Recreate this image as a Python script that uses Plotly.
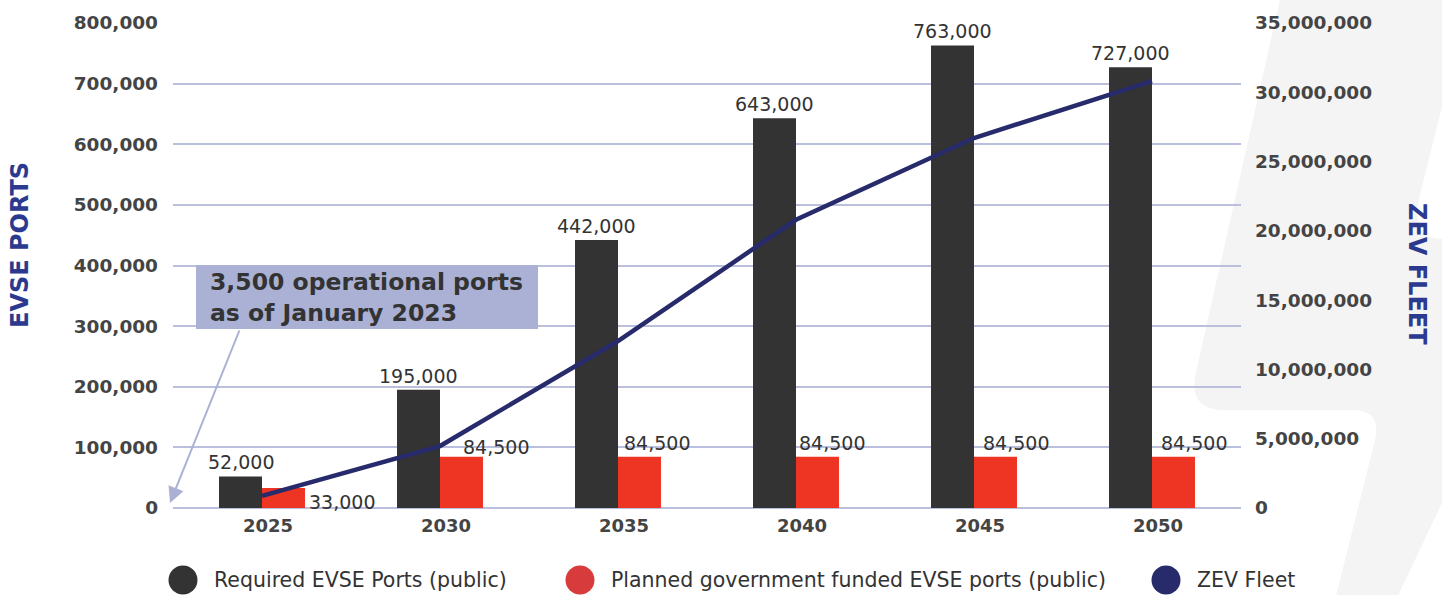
import plotly.graph_objects as go

# ---------------- data ----------------
years = ["2025", "2030", "2035", "2040", "2045", "2050"]
required_ports = [52000, 195000, 442000, 643000, 763000, 727000]
planned_ports = [33000, 84500, 84500, 84500, 84500, 84500]
zev_fleet = [870000, 4470000, 12050000, 20800000, 26700000, 30800000]

left_ticks = [0, 100000, 200000, 300000, 400000, 500000, 600000, 700000, 800000]
right_ticks = [0, 5000000, 10000000, 15000000, 20000000, 25000000, 30000000, 35000000]

legend_names = ["Required EVSE Ports (public)",
                "Planned government funded EVSE ports (public)",
                "ZEV Fleet"]

# ---------------- styles ----------------
BLACK = "#333333"
RED = "#ee3524"
RED_LEG = "#d83b3b"
NAVY = "#272b6b"
TITLE_NAVY = "#2b3a8f"
GRID = "#b9bfdd"
GRAY_BG = "#f4f4f4"
BOX = "#aab1d4"
TXT = "#333333"
TICK = "#444444"
FONT = "DejaVu Sans"

W, H = 1442, 595
ML, MR, MT, MB = 173, 201, 23, 87
PW, PH = W - ML - MR, H - MT - MB


def px(x):
    return (x - ML) / PW


def py(y):
    return (H - MB - y) / PH


fig = go.Figure()

fig.add_trace(go.Bar(
    x=years, y=required_ports, name=legend_names[0],
    marker=dict(color=BLACK, line=dict(width=0)), showlegend=False,
))
fig.add_trace(go.Bar(
    x=years, y=planned_ports, name=legend_names[1],
    marker=dict(color=RED, line=dict(width=0)), showlegend=False,
))
fig.add_trace(go.Scatter(
    x=years, y=zev_fleet, name=legend_names[2], yaxis="y2",
    mode="lines", line=dict(color=NAVY, width=4.5), showlegend=False,
))

annotations = []
# labels on required (black) bars  (x given as category index)
for i, v in enumerate(required_ports):
    annotations.append(dict(
        x=i, y=v, xref="x", yref="y", text=f"{v:,}", showarrow=False,
        xshift=-21.5, yanchor="bottom", yshift=1,
        font=dict(family=FONT, size=19, color=TXT),
    ))
# labels on planned (red) bars
red_xshift = [45, 21, 4, 1, 7, 7]
red_yshift = [-14, 10, 14, 14, 14, 14]
for i, (v, dx, dy) in enumerate(zip(planned_ports, red_xshift, red_yshift)):
    annotations.append(dict(
        x=i, y=v, xref="x", yref="y", text=f"{v:,}", showarrow=False,
        xanchor="left", xshift=dx, yanchor="middle", yshift=dy,
        font=dict(family=FONT, size=19, color=TXT),
    ))

# callout text and arrow
annotations.append(dict(
    x=px(208), y=py(297), xref="paper", yref="paper",
    text="3,500 operational ports<br>as of January 2023",
    showarrow=False, xanchor="left", yanchor="middle", align="left",
    font=dict(family=FONT, size=23.5, color=TXT, weight="bold"),
))
annotations.append(dict(
    x=px(170), y=py(503), xref="paper", yref="paper", text="",
    showarrow=True, ax=70, ay=-174, axref="pixel", ayref="pixel",
    arrowhead=2, arrowsize=1.6, arrowwidth=2, arrowcolor=BOX,
))

# axis titles
annotations.append(dict(
    x=px(20), y=py(245), xref="paper", yref="paper", text="<b>EVSE PORTS</b>",
    showarrow=False, textangle=-90, xanchor="center", yanchor="middle",
    font=dict(family=FONT, size=24, color=TITLE_NAVY),
))
annotations.append(dict(
    x=px(1417), y=py(274), xref="paper", yref="paper", text="<b>ZEV FLEET</b>",
    showarrow=False, textangle=90, xanchor="center", yanchor="middle",
    font=dict(family=FONT, size=24, color=TITLE_NAVY),
))

# legend (circle markers + text)
leg_cx = [183, 580, 1166]
leg_colors = [BLACK, RED_LEG, NAVY]
shapes = []
for cx, name, col in zip(leg_cx, legend_names, leg_colors):
    shapes.append(dict(
        type="circle", xref="paper", yref="paper",
        xsizemode="pixel", ysizemode="pixel",
        xanchor=px(cx), yanchor=py(580),
        x0=-14.5, x1=14.5, y0=-14.5, y1=14.5,
        fillcolor=col, line=dict(width=0),
    ))
    annotations.append(dict(
        x=px(cx + 29), y=py(580), xref="paper", yref="paper", text=name,
        showarrow=False, xanchor="left", yanchor="middle",
        font=dict(family=FONT, size=20.5, color=TXT),
    ))

# gray background swoosh
gray_path = (
    f"M {px(1281)},{py(-5)} L {px(1450)},{py(-5)} L {px(1450)},{py(486)} "
    f"L {px(1396)},{py(600)} L {px(1335)},{py(600)} L {px(1375)},{py(440)} "
    f"Q {px(1382)},{py(410)} {px(1352)},{py(410)} L {px(1225)},{py(410)} "
    f"Q {px(1187)},{py(410)} {px(1196)},{py(372)} Z"
)
white_notch = (
    f"M {px(1450)},{py(100)} L {px(1443)},{py(103)} L {px(1419)},{py(198)} "
    f"Q {px(1411)},{py(239)} {px(1442)},{py(239)} L {px(1450)},{py(239)} Z"
)
shapes.insert(0, dict(type="path", path=gray_path, xref="paper", yref="paper",
                      fillcolor=GRAY_BG, line=dict(width=0), layer="below"))
shapes.insert(1, dict(type="path", path=white_notch, xref="paper", yref="paper",
                      fillcolor="white", line=dict(width=0), layer="below"))
# callout box
shapes.append(dict(type="rect", xref="paper", yref="paper",
                   x0=px(196), x1=px(538), y0=py(329), y1=py(265),
                   fillcolor=BOX, line=dict(width=0), layer="above"))

fig.update_layout(
    width=W, height=H,
    margin=dict(l=ML, r=MR, t=MT, b=MB, pad=0),
    paper_bgcolor="white", plot_bgcolor="rgba(0,0,0,0)",
    barmode="group", bargap=0.517, bargroupgap=0,
    showlegend=False,
    font=dict(family=FONT, color=TXT),
    xaxis=dict(
        type="category", range=[-0.5, len(years) - 0.5],
        showgrid=False, zeroline=False, showline=False,
        ticks="", ticklabelshift=6, ticklabelstandoff=5,
        tickfont=dict(family=FONT, size=18, color=TICK, weight="bold"),
    ),
    yaxis=dict(
        range=[0, 800000], tickvals=left_ticks, tickformat=",",
        showgrid=True, gridcolor=GRID, gridwidth=1.5,
        zeroline=True, zerolinecolor=GRID, zerolinewidth=1.5,
        showline=False, ticks="", ticklabelstandoff=14,
        tickfont=dict(family=FONT, size=18.5, color=TICK, weight="bold"),
    ),
    yaxis2=dict(
        range=[0, 35000000], tickvals=right_ticks, tickformat=",",
        overlaying="y", side="right", showgrid=False, zeroline=False,
        showline=False, ticks="", ticklabelstandoff=13,
        tickfont=dict(family=FONT, size=18.5, color=TICK, weight="bold"),
    ),
    annotations=annotations,
    shapes=shapes,
)

fig.write_html("out.html", config={"displayModeBar": False},
               post_script="document.body.style.margin='0';")
